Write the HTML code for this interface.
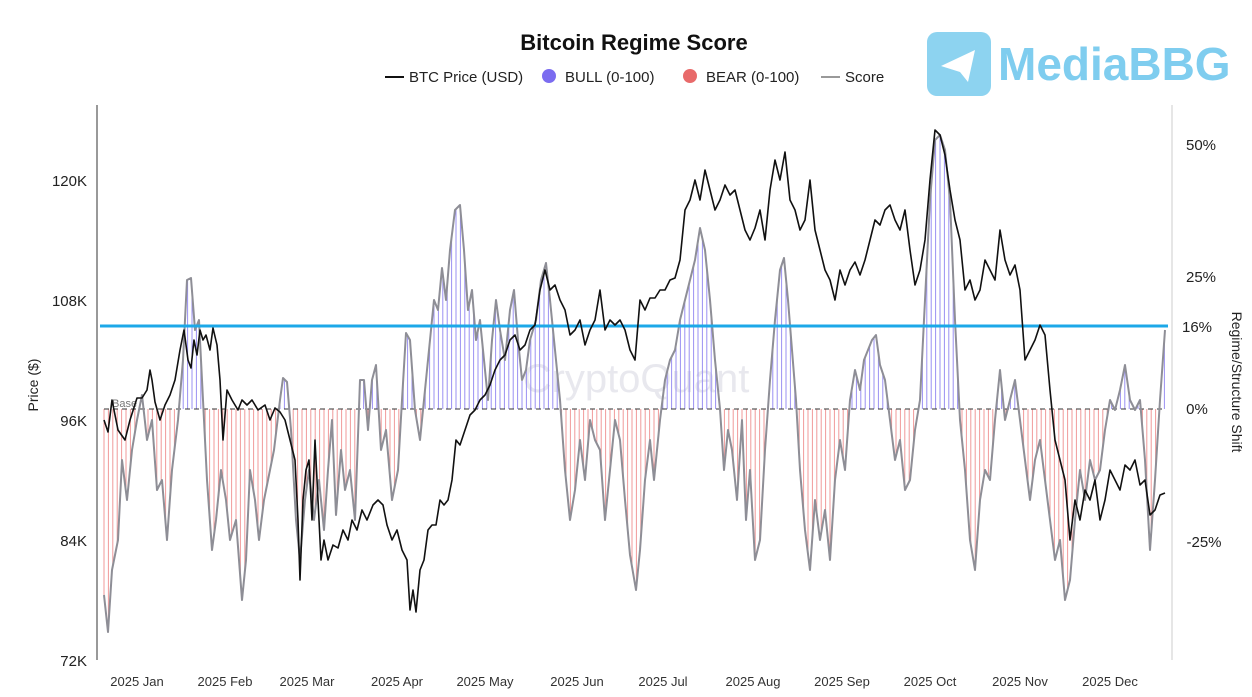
<!DOCTYPE html>
<html><head><meta charset="utf-8"><style>
body{margin:0;background:#fff;width:1252px;height:692px;overflow:hidden;font-family:"Liberation Sans",sans-serif}
</style></head><body>
<svg id="s" width="1252" height="692" xmlns="http://www.w3.org/2000/svg" font-family="Liberation Sans, sans-serif">
<text x="634" y="50" text-anchor="middle" font-size="22" font-weight="bold" fill="#111">Bitcoin Regime Score</text>
<line x1="385" y1="77" x2="404" y2="77" stroke="#111" stroke-width="2"/>
<text x="409" y="82" font-size="15" fill="#222">BTC Price (USD)</text>
<circle cx="549" cy="76" r="7" fill="#7b6cf0"/>
<text x="565" y="82" font-size="15" fill="#222">BULL (0-100)</text>
<circle cx="690" cy="76" r="7" fill="#e86a6a"/>
<text x="706" y="82" font-size="15" fill="#222">BEAR (0-100)</text>
<line x1="821" y1="77" x2="840" y2="77" stroke="#999" stroke-width="2"/>
<text x="845" y="82" font-size="15" fill="#222">Score</text>
<rect x="927" y="32" width="64" height="64" rx="10" fill="#8dd3f0"/>
<path d="M941 66 L975 50 L968 82 L960 72 Z" fill="#fff"/>
<text x="998" y="80" font-size="46" font-weight="bold" fill="#7fcdef">MediaBBG</text>
<text x="636" y="392" text-anchor="middle" font-size="40" fill="#e8e8ee">CryptoQuant</text>
<line x1="97" y1="105" x2="97" y2="660" stroke="#333"/>
<line x1="1172" y1="105" x2="1172" y2="660" stroke="#ccc"/>
<g font-size="15" fill="#222" text-anchor="end">
<text x="87" y="186">120K</text><text x="87" y="306">108K</text><text x="87" y="426">96K</text><text x="87" y="546">84K</text><text x="87" y="666">72K</text></g>
<g font-size="15" fill="#222" text-anchor="middle">
<text x="1201" y="150">50%</text><text x="1201" y="282">25%</text><text x="1197" y="332">16%</text><text x="1197" y="414">0%</text><text x="1204" y="547">-25%</text></g>
<text transform="translate(38,385) rotate(-90)" text-anchor="middle" font-size="14" fill="#222">Price ($)</text>
<text transform="translate(1232,382) rotate(90)" text-anchor="middle" font-size="14" fill="#222">Regime/Structure Shift</text>
<g font-size="13" fill="#333" text-anchor="middle">
<text x="137" y="686">2025 Jan</text><text x="225" y="686">2025 Feb</text><text x="307" y="686">2025 Mar</text><text x="397" y="686">2025 Apr</text><text x="485" y="686">2025 May</text><text x="577" y="686">2025 Jun</text><text x="663" y="686">2025 Jul</text><text x="753" y="686">2025 Aug</text><text x="842" y="686">2025 Sep</text><text x="930" y="686">2025 Oct</text><text x="1020" y="686">2025 Nov</text><text x="1110" y="686">2025 Dec</text></g>
<g id="g"></g>
</svg>
<script>
var S=[104,595,108,632,112,570,118,540,122,460,127,500,132,450,137,420,142,395,147,440,152,420,157,490,162,480,167,540,172,470,178,420,183,360,187,280,191,278,195,330,199,320,203,400,207,480,212,550,216,520,221,470,226,500,230,540,236,520,242,600,246,560,250,470,255,500,259,540,264,500,268,480,274,450,280,400,283,378,287,382,291,430,296,520,300,560,305,500,309,470,314,520,319,480,324,530,328,470,332,420,336,515,341,450,345,490,350,470,355,520,360,380,364,380,368,430,372,380,376,365,381,450,386,430,392,500,398,470,402,400,406,333,410,340,415,410,420,440,425,390,430,340,434,300,438,310,442,268,446,300,450,250,455,210,460,205,464,250,468,310,472,290,476,340,480,320,484,360,488,400,492,340,496,300,500,330,505,360,510,310,514,290,518,340,522,380,526,370,530,340,536,320,541,280,546,263,550,300,555,350,560,400,565,470,570,520,575,490,580,440,585,480,590,420,595,440,600,450,605,520,610,470,615,420,620,440,625,500,630,555,636,590,640,550,645,480,650,440,654,480,660,420,665,380,670,360,675,350,680,320,685,300,690,280,695,260,700,228,705,250,710,300,715,360,720,409,724,470,728,430,732,450,737,500,742,420,746,520,750,470,755,560,760,540,765,450,770,380,775,320,780,270,784,258,788,300,792,350,796,400,800,470,805,530,810,570,815,500,820,540,825,510,830,560,835,480,840,440,845,470,850,400,855,370,860,390,864,360,868,350,872,340,876,335,880,365,885,380,890,420,895,460,900,440,905,490,910,480,915,430,920,400,925,300,930,200,935,140,940,135,945,150,950,200,955,320,960,420,965,470,970,540,975,570,980,500,985,470,990,480,995,420,1000,370,1005,420,1010,400,1015,380,1020,420,1025,460,1030,500,1035,460,1040,440,1045,480,1050,520,1055,560,1060,540,1065,600,1070,580,1075,520,1080,470,1085,500,1090,460,1095,480,1100,470,1105,430,1110,400,1115,410,1120,390,1125,365,1130,400,1135,410,1140,400,1145,460,1150,550,1155,480,1160,400,1165,330];
var P=[104,420,108,432,112,400,118,430,125,440,130,420,137,398,142,398,147,390,150,370,152,380,155,402,160,420,165,405,170,395,175,380,180,350,184,330,188,360,191,368,194,340,197,355,200,330,203,340,206,335,210,350,213,328,217,345,220,380,223,440,227,390,232,400,238,410,242,400,247,405,252,400,258,410,265,405,270,420,275,408,280,412,285,420,290,440,295,460,298,520,300,580,303,500,306,470,309,460,312,520,315,440,318,500,321,560,324,540,328,560,333,545,338,548,343,530,348,540,352,520,357,530,362,510,367,520,373,505,378,500,383,505,387,525,392,540,397,530,402,550,407,560,410,610,413,590,416,612,420,570,424,560,428,530,432,525,436,525,440,500,444,505,448,500,452,480,456,440,460,445,465,430,470,415,475,410,480,400,485,395,490,385,495,370,500,360,505,355,510,340,515,335,520,350,525,345,530,330,535,325,540,290,545,270,550,290,555,285,560,300,565,310,570,335,575,330,580,320,585,345,590,330,595,320,600,290,605,330,610,320,615,325,620,320,625,330,630,350,635,360,640,300,645,310,650,298,655,298,660,290,665,290,670,280,675,278,680,260,685,210,690,200,695,180,700,200,705,170,710,190,715,210,720,200,725,185,730,195,735,190,740,210,745,230,750,240,755,228,760,210,765,240,770,190,775,160,780,180,785,152,790,200,795,210,800,230,805,220,810,180,815,230,820,250,825,270,830,280,835,300,840,270,845,285,850,270,855,262,860,275,865,260,870,240,875,220,880,225,885,210,890,205,895,220,900,230,905,210,910,250,915,285,920,270,925,240,930,180,935,130,940,135,945,155,950,190,955,220,960,240,965,290,970,280,975,300,980,290,985,260,990,270,995,280,1000,230,1005,260,1010,275,1015,265,1020,290,1025,360,1030,350,1035,340,1040,325,1045,335,1050,390,1055,440,1060,460,1065,480,1070,540,1075,500,1080,520,1085,490,1090,500,1095,480,1100,520,1105,500,1110,470,1115,480,1120,490,1125,465,1130,470,1135,460,1140,485,1145,480,1150,515,1155,510,1160,495,1165,493];
function interp(A,x){for(var i=0;i<A.length-2;i+=2){if(x>=A[i]&&x<=A[i+2]){var t=(x-A[i])/(A[i+2]-A[i]);return A[i+1]+t*(A[i+3]-A[i+1]);}}return A[A.length-1];}
var h='',B=409;
for(var x=104;x<=1165;x+=4.4){var y=interp(S,x);h+='<line x1="'+x.toFixed(1)+'" y1="'+B+'" x2="'+x.toFixed(1)+'" y2="'+y.toFixed(1)+'" stroke="'+(y<B?'#9a90f2':'#f09a9a')+'" stroke-width="1"/>';}
h+='<line x1="104" y1="409" x2="1165" y2="409" stroke="#333" stroke-dasharray="5,4" stroke-width="1"/>';
h+='<text x="112" y="407" font-size="11" fill="#777">Base</text>';
function pl(A,c,w){var p='';for(var i=0;i<A.length;i+=2)p+=A[i]+','+A[i+1]+' ';return '<polyline points="'+p+'" fill="none" stroke="'+c+'" stroke-width="'+w+'" stroke-linejoin="round"/>';}
h+=pl(S,'#8e8e96',2);
h+='<line x1="100" y1="326" x2="1168" y2="326" stroke="#1ca8e8" stroke-width="3"/>';
h+=pl(P,'#111',1.6);
document.getElementById('g').innerHTML=h;
</script>
</body></html>
